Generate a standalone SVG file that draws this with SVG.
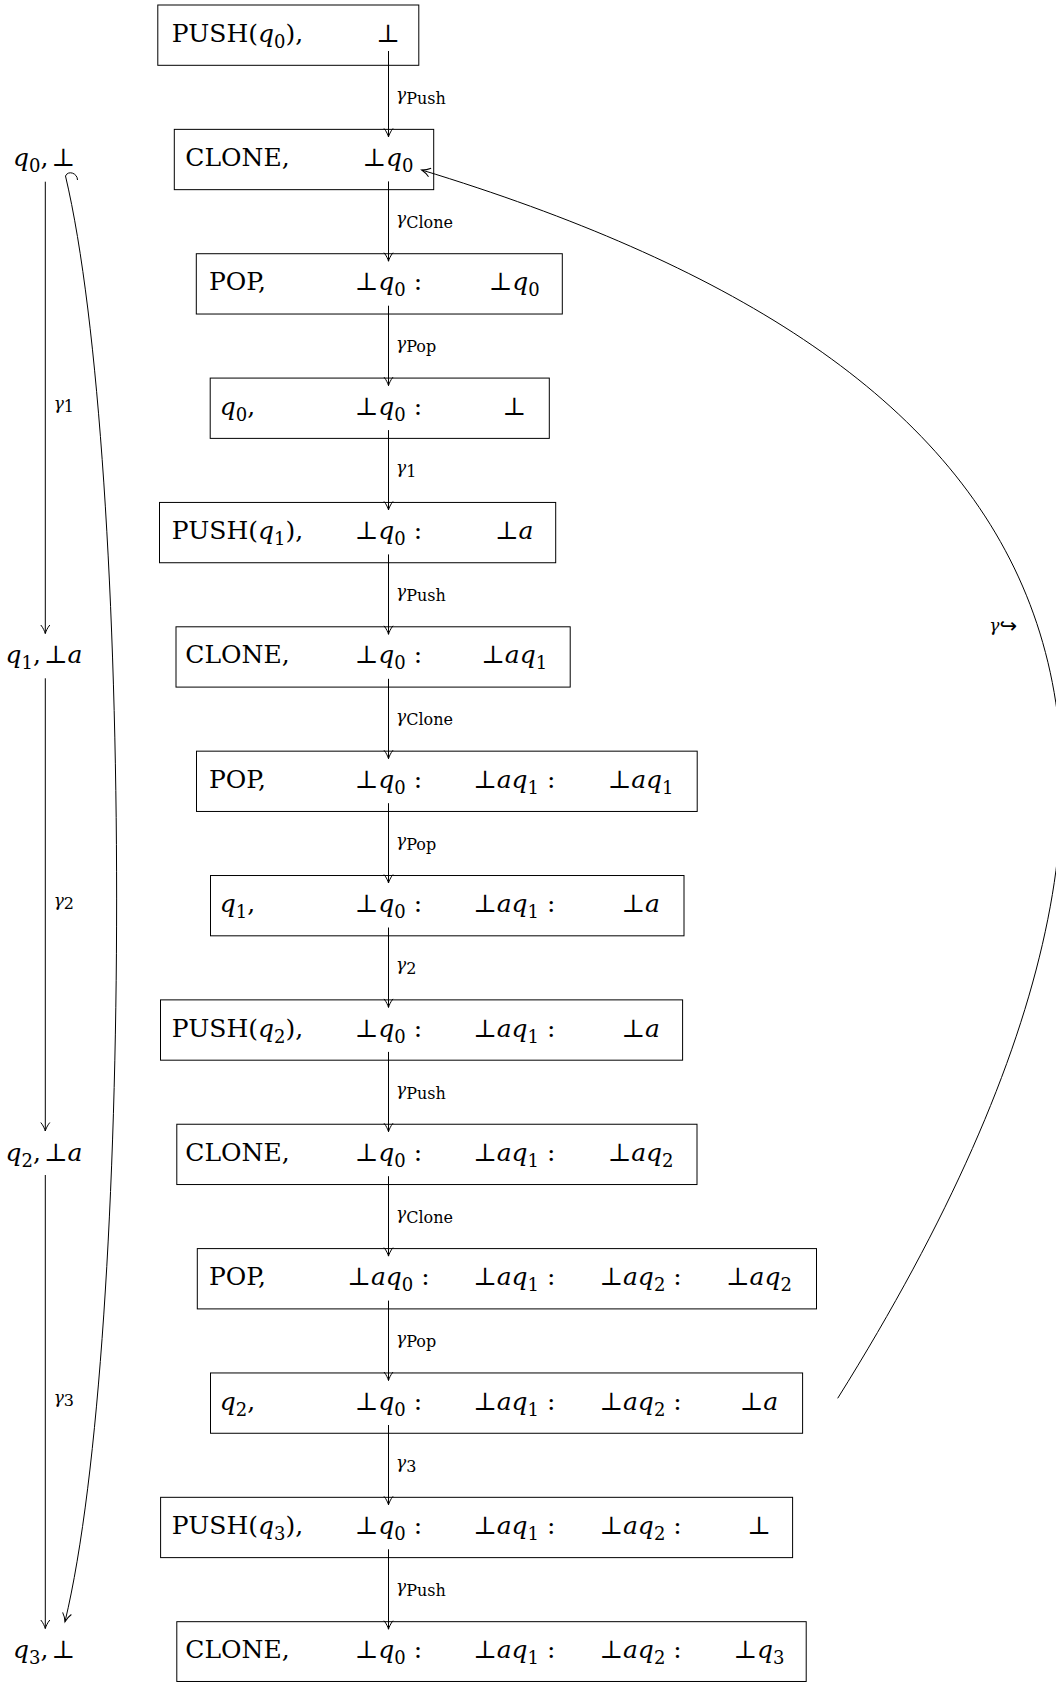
<svg xmlns="http://www.w3.org/2000/svg" width="1056" height="1682" viewBox="0 0 1056 1682">
<style>
text { font-family: "DejaVu Serif", "DejaVu Sans", serif; fill: #000; white-space: pre; }
.m { font-size: 25px; }
.c { text-anchor: middle; }
.i { font-style: italic; }
.s { font-size: 18px; }
.lab { font-size: 17px; }
.ls { font-size: 16px; font-style: normal; }
.hk { font-family: "DejaVu Sans", sans-serif; font-size: 21px; font-style: normal; }
.box { fill: none; stroke: #000; stroke-width: 1; }
.edge { fill: none; stroke: #000; stroke-width: 1; marker-end: url(#tip); }
</style>
<defs>
<marker id="tip" markerUnits="userSpaceOnUse" markerWidth="14" markerHeight="14" viewBox="-11 -7 14 14" refX="0" refY="0" orient="auto" overflow="visible">
<path d="M-8.5,-4.5 C-5.5,-2 -2,-0.6 0,0 C-2,0.6 -5.5,2 -8.5,4.5" fill="none" stroke="#000" stroke-width="1"/>
</marker>
</defs>
<rect x="0" y="0" width="1056" height="1682" fill="#fff"/>

<g id="n1"><rect class="box" x="157.8" y="5" width="261" height="60.3"/>
<text class="m c" x="237.5" y="41.6">PUSH(<tspan class="i">q</tspan><tspan class="s" dy="6">0</tspan><tspan dy="-6">),</tspan></text>
<text class="m c" x="388" y="41.6">⊥</text></g>

<g id="n2"><rect class="box" x="174.3" y="129.36" width="259.4" height="60.3"/>
<text class="m c" x="237.5" y="166">CLONE,</text>
<text class="m c" x="388" y="166">⊥<tspan class="i">q</tspan><tspan class="s" dy="6">0</tspan></text></g>

<g id="n3"><rect class="box" x="196.3" y="253.72" width="366" height="60.3"/>
<text class="m c" x="237.5" y="290.3">POP,</text>
<text class="m c" x="388.5" y="290.3">⊥<tspan class="i">q</tspan><tspan class="s" dy="6">0</tspan><tspan dy="-6"> :</tspan></text>
<text class="m c" x="514.3" y="290.3">⊥<tspan class="i">q</tspan><tspan class="s" dy="6">0</tspan></text></g>

<g id="n4"><rect class="box" x="210.2" y="378.08" width="339.1" height="60.3"/>
<text class="m c" x="237.5" y="414.7"><tspan class="i">q</tspan><tspan class="s" dy="6">0</tspan><tspan dy="-6">,</tspan></text>
<text class="m c" x="388.5" y="414.7">⊥<tspan class="i">q</tspan><tspan class="s" dy="6">0</tspan><tspan dy="-6"> :</tspan></text>
<text class="m c" x="514.3" y="414.7">⊥</text></g>

<g id="n5"><rect class="box" x="159.5" y="502.44" width="396.2" height="60.3"/>
<text class="m c" x="237.5" y="539">PUSH(<tspan class="i">q</tspan><tspan class="s" dy="6">1</tspan><tspan dy="-6">),</tspan></text>
<text class="m c" x="388.5" y="539">⊥<tspan class="i">q</tspan><tspan class="s" dy="6">0</tspan><tspan dy="-6"> :</tspan></text>
<text class="m c" x="514.3" y="539">⊥<tspan class="i">a</tspan></text></g>

<g id="n6"><rect class="box" x="176" y="626.8" width="394.2" height="60.3"/>
<text class="m c" x="237.5" y="663.4">CLONE,</text>
<text class="m c" x="388.5" y="663.4">⊥<tspan class="i">q</tspan><tspan class="s" dy="6">0</tspan><tspan dy="-6"> :</tspan></text>
<text class="m c" x="514.3" y="663.4">⊥<tspan class="i">aq</tspan><tspan class="s" dy="6">1</tspan></text></g>

<g id="n7"><rect class="box" x="196.5" y="751.16" width="500.7" height="60.3"/>
<text class="m c" x="237.5" y="787.8">POP,</text>
<text class="m c" x="388.5" y="787.8">⊥<tspan class="i">q</tspan><tspan class="s" dy="6">0</tspan><tspan dy="-6"> :</tspan></text>
<text class="m c" x="514.3" y="787.8">⊥<tspan class="i">aq</tspan><tspan class="s" dy="6">1</tspan><tspan dy="-6"> :</tspan></text>
<text class="m c" x="640.6" y="787.8">⊥<tspan class="i">aq</tspan><tspan class="s" dy="6">1</tspan></text></g>

<g id="n8"><rect class="box" x="210.5" y="875.52" width="473.5" height="60.3"/>
<text class="m c" x="237.5" y="912.1"><tspan class="i">q</tspan><tspan class="s" dy="6">1</tspan><tspan dy="-6">,</tspan></text>
<text class="m c" x="388.5" y="912.1">⊥<tspan class="i">q</tspan><tspan class="s" dy="6">0</tspan><tspan dy="-6"> :</tspan></text>
<text class="m c" x="514.3" y="912.1">⊥<tspan class="i">aq</tspan><tspan class="s" dy="6">1</tspan><tspan dy="-6"> :</tspan></text>
<text class="m c" x="640.6" y="912.1">⊥<tspan class="i">a</tspan></text></g>

<g id="n9"><rect class="box" x="160.5" y="999.88" width="522.1" height="60.3"/>
<text class="m c" x="237.5" y="1036.5">PUSH(<tspan class="i">q</tspan><tspan class="s" dy="6">2</tspan><tspan dy="-6">),</tspan></text>
<text class="m c" x="388.5" y="1036.5">⊥<tspan class="i">q</tspan><tspan class="s" dy="6">0</tspan><tspan dy="-6"> :</tspan></text>
<text class="m c" x="514.3" y="1036.5">⊥<tspan class="i">aq</tspan><tspan class="s" dy="6">1</tspan><tspan dy="-6"> :</tspan></text>
<text class="m c" x="640.6" y="1036.5">⊥<tspan class="i">a</tspan></text></g>

<g id="n10"><rect class="box" x="176.8" y="1124.24" width="520.2" height="60.3"/>
<text class="m c" x="237.5" y="1160.8">CLONE,</text>
<text class="m c" x="388.5" y="1160.8">⊥<tspan class="i">q</tspan><tspan class="s" dy="6">0</tspan><tspan dy="-6"> :</tspan></text>
<text class="m c" x="514.3" y="1160.8">⊥<tspan class="i">aq</tspan><tspan class="s" dy="6">1</tspan><tspan dy="-6"> :</tspan></text>
<text class="m c" x="640.6" y="1160.8">⊥<tspan class="i">aq</tspan><tspan class="s" dy="6">2</tspan></text></g>

<g id="n11"><rect class="box" x="197.3" y="1248.6" width="619.2" height="60.3"/>
<text class="m c" x="237.5" y="1285.2">POP,</text>
<text class="m c" x="388.5" y="1285.2">⊥<tspan class="i">aq</tspan><tspan class="s" dy="6">0</tspan><tspan dy="-6"> :</tspan></text>
<text class="m c" x="514.3" y="1285.2">⊥<tspan class="i">aq</tspan><tspan class="s" dy="6">1</tspan><tspan dy="-6"> :</tspan></text>
<text class="m c" x="640.6" y="1285.2">⊥<tspan class="i">aq</tspan><tspan class="s" dy="6">2</tspan><tspan dy="-6"> :</tspan></text>
<text class="m c" x="759" y="1285.2">⊥<tspan class="i">aq</tspan><tspan class="s" dy="6">2</tspan></text></g>

<g id="n12"><rect class="box" x="210.5" y="1372.96" width="592.1" height="60.3"/>
<text class="m c" x="237.5" y="1409.6"><tspan class="i">q</tspan><tspan class="s" dy="6">2</tspan><tspan dy="-6">,</tspan></text>
<text class="m c" x="388.5" y="1409.6">⊥<tspan class="i">q</tspan><tspan class="s" dy="6">0</tspan><tspan dy="-6"> :</tspan></text>
<text class="m c" x="514.3" y="1409.6">⊥<tspan class="i">aq</tspan><tspan class="s" dy="6">1</tspan><tspan dy="-6"> :</tspan></text>
<text class="m c" x="640.6" y="1409.6">⊥<tspan class="i">aq</tspan><tspan class="s" dy="6">2</tspan><tspan dy="-6"> :</tspan></text>
<text class="m c" x="759" y="1409.6">⊥<tspan class="i">a</tspan></text></g>

<g id="n13"><rect class="box" x="160.6" y="1497.32" width="632" height="60.3"/>
<text class="m c" x="237.5" y="1533.9">PUSH(<tspan class="i">q</tspan><tspan class="s" dy="6">3</tspan><tspan dy="-6">),</tspan></text>
<text class="m c" x="388.5" y="1533.9">⊥<tspan class="i">q</tspan><tspan class="s" dy="6">0</tspan><tspan dy="-6"> :</tspan></text>
<text class="m c" x="514.3" y="1533.9">⊥<tspan class="i">aq</tspan><tspan class="s" dy="6">1</tspan><tspan dy="-6"> :</tspan></text>
<text class="m c" x="640.6" y="1533.9">⊥<tspan class="i">aq</tspan><tspan class="s" dy="6">2</tspan><tspan dy="-6"> :</tspan></text>
<text class="m c" x="759" y="1533.9">⊥</text></g>

<g id="n14"><rect class="box" x="176.8" y="1621.68" width="629.4" height="59.8"/>
<text class="m c" x="237.5" y="1658.3">CLONE,</text>
<text class="m c" x="388.5" y="1658.3">⊥<tspan class="i">q</tspan><tspan class="s" dy="6">0</tspan><tspan dy="-6"> :</tspan></text>
<text class="m c" x="514.3" y="1658.3">⊥<tspan class="i">aq</tspan><tspan class="s" dy="6">1</tspan><tspan dy="-6"> :</tspan></text>
<text class="m c" x="640.6" y="1658.3">⊥<tspan class="i">aq</tspan><tspan class="s" dy="6">2</tspan><tspan dy="-6"> :</tspan></text>
<text class="m c" x="759" y="1658.3">⊥<tspan class="i">q</tspan><tspan class="s" dy="6">3</tspan></text></g>

<g id="s0"><text class="m c" x="44" y="166"><tspan class="i">q</tspan><tspan class="s" dy="6">0</tspan><tspan dy="-6">,</tspan><tspan dx="3">⊥</tspan></text></g>
<g id="s1"><text class="m c" x="44" y="663.4"><tspan class="i">q</tspan><tspan class="s" dy="6">1</tspan><tspan dy="-6">,</tspan><tspan dx="3">⊥</tspan><tspan class="i">a</tspan></text></g>
<g id="s2"><text class="m c" x="44" y="1160.8"><tspan class="i">q</tspan><tspan class="s" dy="6">2</tspan><tspan dy="-6">,</tspan><tspan dx="3">⊥</tspan><tspan class="i">a</tspan></text></g>
<g id="s3"><text class="m c" x="44" y="1658.3"><tspan class="i">q</tspan><tspan class="s" dy="6">3</tspan><tspan dy="-6">,</tspan><tspan dx="3">⊥</tspan></text></g>

<g id="connectors">
<path class="edge" d="M388.5,51 V136.9"/>
<path class="edge" d="M388.5,181.4 V261.2"/>
<path class="edge" d="M388.5,305.7 V385.6"/>
<path class="edge" d="M388.5,430.1 V509.9"/>
<path class="edge" d="M388.5,554.4 V634.3"/>
<path class="edge" d="M388.5,678.8 V758.7"/>
<path class="edge" d="M388.5,803.2 V883"/>
<path class="edge" d="M388.5,927.5 V1007.4"/>
<path class="edge" d="M388.5,1051.9 V1131.7"/>
<path class="edge" d="M388.5,1176.2 V1256.1"/>
<path class="edge" d="M388.5,1300.6 V1380.5"/>
<path class="edge" d="M388.5,1425 V1504.8"/>
<path class="edge" d="M388.5,1549.3 V1629.2"/>
<path class="edge" d="M45.3,181.7 V633.5"/>
<path class="edge" d="M45.3,678.3 V1131"/>
<path class="edge" d="M45.3,1175 V1628.5"/>
<path class="edge" d="M77.5,180 C77.5,173 68,170 65.5,176 C133.5,464 134,1334 65,1621.7"/>
<path class="edge" d="M837.7,1398.3 C1282.9,686 1024,354 421.7,170"/>

<text class="lab" x="396" y="99.9"><tspan class="i">γ</tspan><tspan class="ls" dy="3.7">Push</tspan></text>
<text class="lab" x="396" y="224.3"><tspan class="i">γ</tspan><tspan class="ls" dy="3.7">Clone</tspan></text>
<text class="lab" x="396" y="348.6"><tspan class="i">γ</tspan><tspan class="ls" dy="3.7">Pop</tspan></text>
<text class="lab" x="396" y="473"><tspan class="i">γ</tspan><tspan class="ls" dy="3.7">1</tspan></text>
<text class="lab" x="396" y="597.3"><tspan class="i">γ</tspan><tspan class="ls" dy="3.7">Push</tspan></text>
<text class="lab" x="396" y="721.7"><tspan class="i">γ</tspan><tspan class="ls" dy="3.7">Clone</tspan></text>
<text class="lab" x="396" y="846.1"><tspan class="i">γ</tspan><tspan class="ls" dy="3.7">Pop</tspan></text>
<text class="lab" x="396" y="970.4"><tspan class="i">γ</tspan><tspan class="ls" dy="3.7">2</tspan></text>
<text class="lab" x="396" y="1094.8"><tspan class="i">γ</tspan><tspan class="ls" dy="3.7">Push</tspan></text>
<text class="lab" x="396" y="1219.1"><tspan class="i">γ</tspan><tspan class="ls" dy="3.7">Clone</tspan></text>
<text class="lab" x="396" y="1343.5"><tspan class="i">γ</tspan><tspan class="ls" dy="3.7">Pop</tspan></text>
<text class="lab" x="396" y="1467.9"><tspan class="i">γ</tspan><tspan class="ls" dy="3.7">3</tspan></text>
<text class="lab" x="396" y="1592.2"><tspan class="i">γ</tspan><tspan class="ls" dy="3.7">Push</tspan></text>
<text class="lab" x="53.7" y="408.6"><tspan class="i">γ</tspan><tspan class="ls" dy="3.7">1</tspan></text>
<text class="lab" x="53.7" y="905.7"><tspan class="i">γ</tspan><tspan class="ls" dy="3.7">2</tspan></text>
<text class="lab" x="53.7" y="1402.7"><tspan class="i">γ</tspan><tspan class="ls" dy="3.7">3</tspan></text>
<text class="lab" x="989.3" y="631"><tspan class="i">γ</tspan><tspan class="hk" dy="2">↪</tspan></text>
</g>
</svg>
